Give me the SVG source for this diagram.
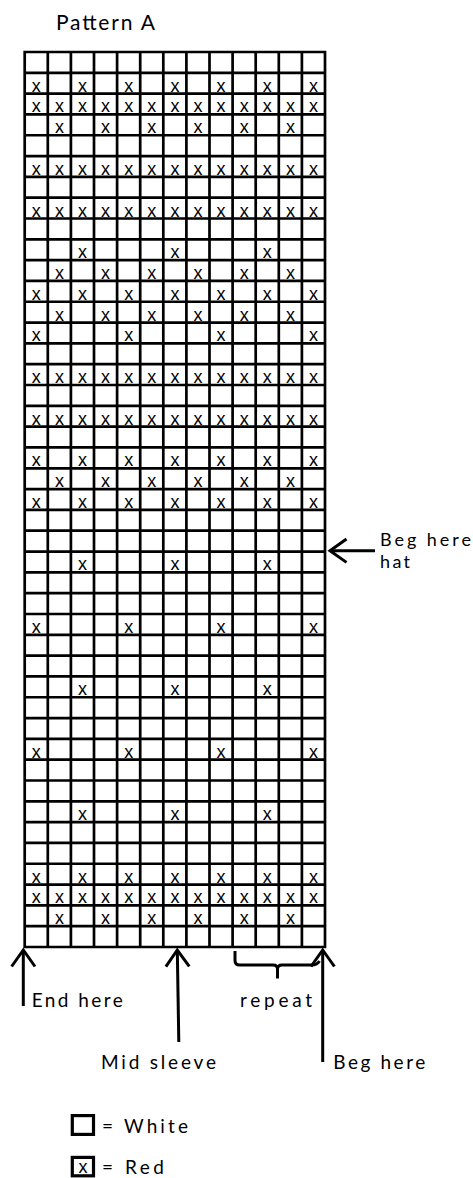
<svg xmlns="http://www.w3.org/2000/svg" width="473" height="1178" viewBox="0 0 473 1178">
<style>
.lbl{font-family:Lato,"Open Sans","Liberation Sans",sans-serif;font-size:19px;fill:#000}
.sm{font-size:18px}
.ttl{font-family:Lato,"Open Sans","Liberation Sans",sans-serif;font-size:21px;fill:#000}
.m text,.xm{font-family:"Liberation Sans",Arial,sans-serif;font-size:18px;fill:#000;text-anchor:middle}
.grid{fill:none;stroke:#000;stroke-width:2.7;stroke-linecap:square}
.ln{fill:none;stroke:#000;stroke-width:3}
.box{fill:#fff;stroke:#000;stroke-width:3.2}
</style>
<defs>
<marker id="chev" markerUnits="userSpaceOnUse" orient="auto" refX="0" refY="0" markerWidth="30" markerHeight="30" overflow="visible">
<path d="M-16.5,-11.7 L0,0 L-16.5,11.7" fill="none" stroke="#000" stroke-width="3"/>
</marker>
</defs>
<rect width="473" height="1178" fill="#fff"/>

<g id="title"><text class="ttl" x="56" y="30" textLength="99" lengthAdjust="spacing">Pattern A</text></g>

<g id="chart">
<path class="grid" d="M24.7 52V947M47.8 52V947M70.9 52V947M94 52V947M117.1 52V947M140.2 52V947M163.3 52V947M186.4 52V947M209.5 52V947M232.6 52V947M255.7 52V947M278.8 52V947M301.9 52V947M325 52V947
M24.7 52H325M24.7 72.81H325M24.7 93.63H325M24.7 114.44H325M24.7 135.26H325M24.7 156.07H325M24.7 176.88H325M24.7 197.7H325M24.7 218.51H325M24.7 239.33H325M24.7 260.14H325M24.7 280.95H325M24.7 301.77H325M24.7 322.58H325M24.7 343.4H325M24.7 364.21H325M24.7 385.02H325M24.7 405.84H325M24.7 426.65H325M24.7 447.47H325M24.7 468.28H325M24.7 489.09H325M24.7 509.91H325M24.7 530.72H325M24.7 551.54H325M24.7 572.35H325M24.7 593.16H325M24.7 613.98H325M24.7 634.79H325M24.7 655.61H325M24.7 676.42H325M24.7 697.23H325M24.7 718.05H325M24.7 738.86H325M24.7 759.68H325M24.7 780.49H325M24.7 801.3H325M24.7 822.12H325M24.7 842.93H325M24.7 863.75H325M24.7 884.56H325M24.7 905.37H325M24.7 926.19H325M24.7 947H325"/>
<g class="m">
<text x="36.3" y="91.6">x</text><text x="82.5" y="91.6">x</text><text x="128.7" y="91.6">x</text><text x="174.9" y="91.6">x</text><text x="221.1" y="91.6">x</text><text x="267.3" y="91.6">x</text><text x="313.5" y="91.6">x</text>
<text x="36.3" y="112.4">x</text><text x="59.4" y="112.4">x</text><text x="82.5" y="112.4">x</text><text x="105.6" y="112.4">x</text><text x="128.7" y="112.4">x</text><text x="151.8" y="112.4">x</text><text x="174.9" y="112.4">x</text><text x="198" y="112.4">x</text><text x="221.1" y="112.4">x</text><text x="244.2" y="112.4">x</text><text x="267.3" y="112.4">x</text><text x="290.4" y="112.4">x</text><text x="313.5" y="112.4">x</text>
<text x="59.4" y="133.3">x</text><text x="105.6" y="133.3">x</text><text x="151.8" y="133.3">x</text><text x="198" y="133.3">x</text><text x="244.2" y="133.3">x</text><text x="290.4" y="133.3">x</text>
<text x="36.3" y="174.9">x</text><text x="59.4" y="174.9">x</text><text x="82.5" y="174.9">x</text><text x="105.6" y="174.9">x</text><text x="128.7" y="174.9">x</text><text x="151.8" y="174.9">x</text><text x="174.9" y="174.9">x</text><text x="198" y="174.9">x</text><text x="221.1" y="174.9">x</text><text x="244.2" y="174.9">x</text><text x="267.3" y="174.9">x</text><text x="290.4" y="174.9">x</text><text x="313.5" y="174.9">x</text>
<text x="36.3" y="216.5">x</text><text x="59.4" y="216.5">x</text><text x="82.5" y="216.5">x</text><text x="105.6" y="216.5">x</text><text x="128.7" y="216.5">x</text><text x="151.8" y="216.5">x</text><text x="174.9" y="216.5">x</text><text x="198" y="216.5">x</text><text x="221.1" y="216.5">x</text><text x="244.2" y="216.5">x</text><text x="267.3" y="216.5">x</text><text x="290.4" y="216.5">x</text><text x="313.5" y="216.5">x</text>
<text x="82.5" y="258.1">x</text><text x="174.9" y="258.1">x</text><text x="267.3" y="258.1">x</text>
<text x="59.4" y="279">x</text><text x="105.6" y="279">x</text><text x="151.8" y="279">x</text><text x="198" y="279">x</text><text x="244.2" y="279">x</text><text x="290.4" y="279">x</text>
<text x="36.3" y="299.8">x</text><text x="82.5" y="299.8">x</text><text x="128.7" y="299.8">x</text><text x="174.9" y="299.8">x</text><text x="221.1" y="299.8">x</text><text x="267.3" y="299.8">x</text><text x="313.5" y="299.8">x</text>
<text x="59.4" y="320.6">x</text><text x="105.6" y="320.6">x</text><text x="151.8" y="320.6">x</text><text x="198" y="320.6">x</text><text x="244.2" y="320.6">x</text><text x="290.4" y="320.6">x</text>
<text x="36.3" y="341.4">x</text><text x="128.7" y="341.4">x</text><text x="221.1" y="341.4">x</text><text x="313.5" y="341.4">x</text>
<text x="36.3" y="383">x</text><text x="59.4" y="383">x</text><text x="82.5" y="383">x</text><text x="105.6" y="383">x</text><text x="128.7" y="383">x</text><text x="151.8" y="383">x</text><text x="174.9" y="383">x</text><text x="198" y="383">x</text><text x="221.1" y="383">x</text><text x="244.2" y="383">x</text><text x="267.3" y="383">x</text><text x="290.4" y="383">x</text><text x="313.5" y="383">x</text>
<text x="36.3" y="424.7">x</text><text x="59.4" y="424.7">x</text><text x="82.5" y="424.7">x</text><text x="105.6" y="424.7">x</text><text x="128.7" y="424.7">x</text><text x="151.8" y="424.7">x</text><text x="174.9" y="424.7">x</text><text x="198" y="424.7">x</text><text x="221.1" y="424.7">x</text><text x="244.2" y="424.7">x</text><text x="267.3" y="424.7">x</text><text x="290.4" y="424.7">x</text><text x="313.5" y="424.7">x</text>
<text x="36.3" y="466.3">x</text><text x="82.5" y="466.3">x</text><text x="128.7" y="466.3">x</text><text x="174.9" y="466.3">x</text><text x="221.1" y="466.3">x</text><text x="267.3" y="466.3">x</text><text x="313.5" y="466.3">x</text>
<text x="59.4" y="487.1">x</text><text x="105.6" y="487.1">x</text><text x="151.8" y="487.1">x</text><text x="198" y="487.1">x</text><text x="244.2" y="487.1">x</text><text x="290.4" y="487.1">x</text>
<text x="36.3" y="507.9">x</text><text x="82.5" y="507.9">x</text><text x="128.7" y="507.9">x</text><text x="174.9" y="507.9">x</text><text x="221.1" y="507.9">x</text><text x="267.3" y="507.9">x</text><text x="313.5" y="507.9">x</text>
<text x="82.5" y="570.4">x</text><text x="174.9" y="570.4">x</text><text x="267.3" y="570.4">x</text>
<text x="36.3" y="632.8">x</text><text x="128.7" y="632.8">x</text><text x="221.1" y="632.8">x</text><text x="313.5" y="632.8">x</text>
<text x="82.5" y="695.2">x</text><text x="174.9" y="695.2">x</text><text x="267.3" y="695.2">x</text>
<text x="36.3" y="757.7">x</text><text x="128.7" y="757.7">x</text><text x="221.1" y="757.7">x</text><text x="313.5" y="757.7">x</text>
<text x="82.5" y="820.1">x</text><text x="174.9" y="820.1">x</text><text x="267.3" y="820.1">x</text>
<text x="36.3" y="882.6">x</text><text x="82.5" y="882.6">x</text><text x="128.7" y="882.6">x</text><text x="174.9" y="882.6">x</text><text x="221.1" y="882.6">x</text><text x="267.3" y="882.6">x</text><text x="313.5" y="882.6">x</text>
<text x="36.3" y="903.4">x</text><text x="59.4" y="903.4">x</text><text x="82.5" y="903.4">x</text><text x="105.6" y="903.4">x</text><text x="128.7" y="903.4">x</text><text x="151.8" y="903.4">x</text><text x="174.9" y="903.4">x</text><text x="198" y="903.4">x</text><text x="221.1" y="903.4">x</text><text x="244.2" y="903.4">x</text><text x="267.3" y="903.4">x</text><text x="290.4" y="903.4">x</text><text x="313.5" y="903.4">x</text>
<text x="59.4" y="924.2">x</text><text x="105.6" y="924.2">x</text><text x="151.8" y="924.2">x</text><text x="198" y="924.2">x</text><text x="244.2" y="924.2">x</text><text x="290.4" y="924.2">x</text>
</g>
</g>

<g id="label-beg-hat">
<text class="lbl sm" x="380" y="546.4" textLength="91" lengthAdjust="spacing">Beg here</text>
<text class="lbl sm" x="380" y="568.4" textLength="30" lengthAdjust="spacing">hat</text>
</g>
<g id="label-end"><text class="lbl" x="31.7" y="1007" textLength="91" lengthAdjust="spacing">End here</text></g>
<g id="label-repeat"><text class="lbl" x="240" y="1006.5" textLength="72" lengthAdjust="spacing">repeat</text></g>
<g id="label-mid"><text class="lbl" x="101" y="1069" textLength="115" lengthAdjust="spacing">Mid sleeve</text></g>
<g id="label-beg"><text class="lbl" x="333.3" y="1069" textLength="92" lengthAdjust="spacing">Beg here</text></g>

<g id="connectors">
<path class="ln" d="M375,550.7 H330" marker-end="url(#chev)"/>
<path class="ln" d="M23.3,1006 V950" marker-end="url(#chev)"/>
<path class="ln" d="M178.8,1042 L177.3,950" marker-end="url(#chev)"/>
<path class="ln" d="M322.7,1062 V950" marker-end="url(#chev)"/>
<path class="ln" d="M235,951 V960.5 Q235,965 239.5,965 H273 Q277.5,965 277.5,969 V978.5 M277.5,969 Q277.5,965 282,965 H312 Q317,965 319.5,961"/>
</g>

<g id="legend-white">
<rect class="box" x="72.3" y="1115.6" width="21.2" height="18.8"/>
<text class="lbl" x="102" y="1133.3" textLength="86" lengthAdjust="spacing">= White</text>
</g>
<g id="legend-red">
<rect class="box" x="72.3" y="1157.4" width="21.2" height="18.4"/>
<text class="xm" x="83.1" y="1173.3">x</text>
<text class="lbl" x="102" y="1174" textLength="62" lengthAdjust="spacing">= Red</text>
</g>
</svg>
